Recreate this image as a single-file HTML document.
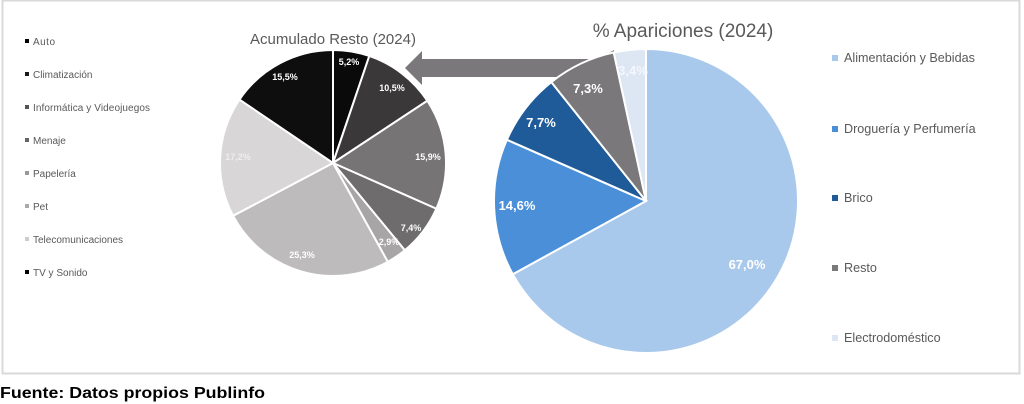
<!DOCTYPE html>
<html><head><meta charset="utf-8"><style>
body{margin:0;background:#fff;width:1024px;height:404px;overflow:hidden;font-family:"Liberation Sans",sans-serif}
</style></head><body>
<svg id="s" width="1024" height="404" xmlns="http://www.w3.org/2000/svg" style="position:absolute;left:0;top:0">
<rect x="2.5" y="0.5" width="1017" height="373" fill="#fff" stroke="#d9d9d9" stroke-width="2"/>
<g id="g"></g>
<g font-family="Liberation Sans, sans-serif" font-size="10" fill="#595959">
<rect x="25" y="39" width="4" height="4" fill="#000"/><text x="33" y="45" textLength="22">Auto</text>
<rect x="25" y="72" width="4" height="4" fill="#1a1a1a"/><text x="33" y="78">Climatización</text>
<rect x="25" y="105" width="4" height="4" fill="#555"/><text x="33" y="111" textLength="117">Informática y Videojuegos</text>
<rect x="25" y="138" width="4" height="4" fill="#666"/><text x="33" y="144">Menaje</text>
<rect x="25" y="171" width="4" height="4" fill="#999"/><text x="33" y="177">Papelería</text>
<rect x="25" y="204" width="4" height="4" fill="#aaa"/><text x="33" y="210">Pet</text>
<rect x="25" y="237" width="4" height="4" fill="#ccc"/><text x="33" y="243">Telecomunicaciones</text>
<rect x="25" y="270" width="4" height="4" fill="#000"/><text x="33" y="276">TV y Sonido</text>
</g>
<g font-family="Liberation Sans, sans-serif" font-size="12.6" fill="#595959">
<rect x="832" y="55" width="6" height="6" fill="#a9c9ec"/><text x="844" y="62">Alimentación y Bebidas</text>
<rect x="832" y="126" width="6" height="6" fill="#4a8fd8"/><text x="844" y="133">Droguería y Perfumería</text>
<rect x="832" y="195" width="6" height="6" fill="#1f5a99"/><text x="844" y="202">Brico</text>
<rect x="832" y="265" width="6" height="6" fill="#7a787a"/><text x="844" y="272">Resto</text>
<rect x="832" y="335" width="6" height="6" fill="#dde7f4"/><text x="844" y="342">Electrodoméstico</text>
</g>
<text x="333" y="44" text-anchor="middle" font-size="15" fill="#595959" font-family="Liberation Sans, sans-serif">Acumulado Resto (2024)</text>
<text x="683" y="37" text-anchor="middle" font-size="19" fill="#595959" font-family="Liberation Sans, sans-serif">% Apariciones (2024)</text>
<text x="0" y="398" font-size="16" font-weight="bold" fill="#000" font-family="Liberation Sans, sans-serif" textLength="265" lengthAdjust="spacingAndGlyphs">Fuente: Datos propios Publinfo</text>
</svg>
<script>
var g=document.getElementById('g'),NS='http://www.w3.org/2000/svg';
function el(t,a,txt){var e=document.createElementNS(NS,t);for(var k in a)e.setAttribute(k,a[k]);if(txt)e.textContent=txt;g.appendChild(e);return e;}
el('polygon',{points:'405,68 422,51 422,59 598,59 614,50 614,82 565,82 565,77 422,77 422,85',fill:'#7a787a'});
function pie(cx,cy,r,vals,cols,labs,fs){var a=0,tot=vals.reduce(function(s,v){return s+v},0);
vals.forEach(function(v,i){var a1=a+v/tot*2*Math.PI;
var x0=cx+r*Math.sin(a),y0=cy-r*Math.cos(a),x1=cx+r*Math.sin(a1),y1=cy-r*Math.cos(a1);
el('path',{d:'M'+cx+','+cy+'L'+x0+','+y0+'A'+r+','+r+' 0 '+((a1-a)>Math.PI?1:0)+' 1 '+x1+','+y1+'Z',fill:cols[i],stroke:'#fff','stroke-width':2});
a=a1;});
labs.forEach(function(l){el('text',{x:l[1],y:l[2],'text-anchor':'middle','font-size':fs,'font-weight':'bold',fill:l[3]||'#fff','font-family':'Liberation Sans, sans-serif'},l[0]);});}
pie(333,163,113,[5.2,10.5,15.9,7.4,2.9,25.3,17.2,15.5],['#0a0a0a','#3a3839','#767475','#6e6c6d','#a7a5a6','#bdbbbc','#d8d6d7','#0e0e0e'],
[['5,2%',349,65],['10,5%',392,91],['15,9%',428,160],['7,4%',411,231],['2,9%',389,245],['25,3%',302,258],['17,2%',238,160,'#eee'],['15,5%',285,80]],9);
pie(646,201,152,[67.0,14.6,7.7,7.3,3.4],['#a9c9ec','#4a8fd8','#1f5a99','#7a787a','#dde7f4'],
[['67,0%',747,269],['14,6%',517,210],['7,7%',541,127],['7,3%',588,93],['3,4%',633,75,'#f4f7fb']],13);
</script>
</body></html>
